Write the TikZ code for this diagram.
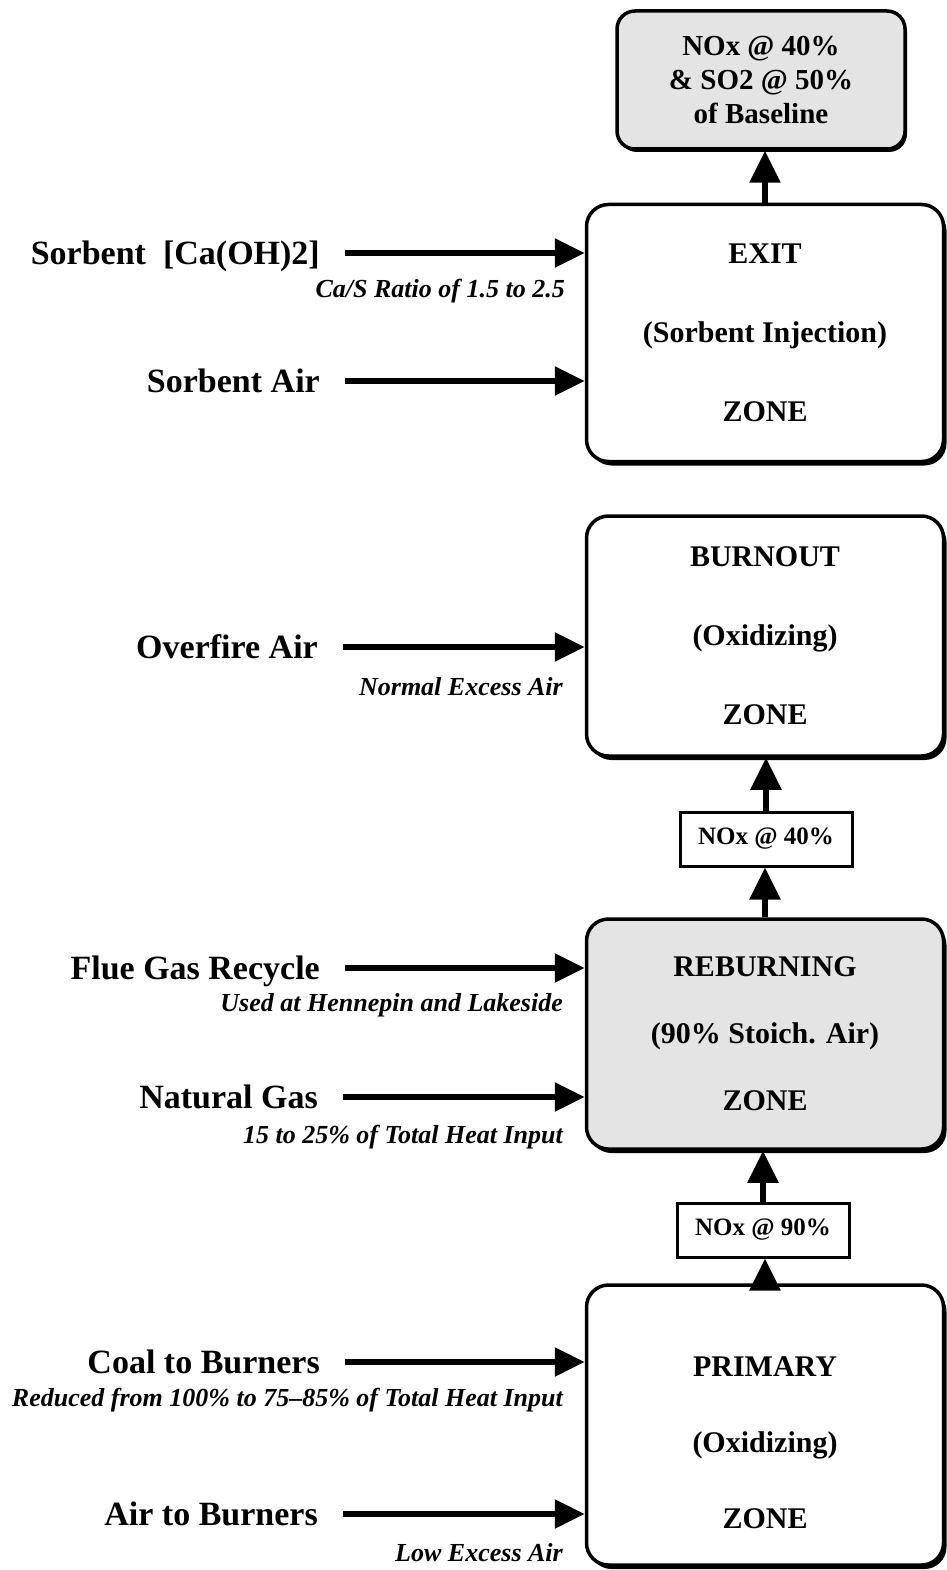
\documentclass[tikz,border=0pt]{standalone}
\usepackage{fontspec}
\setmainfont{Liberation Serif}
\usepackage{tikz}
\usetikzlibrary{arrows.meta,positioning,calc,shadows}
\definecolor{stipple}{RGB}{228,228,228}

\begin{document}
\begin{tikzpicture}[x=1pt,y=-1pt,
  zone/.style={draw,fill=white,line width=3.5pt,rounded corners=22pt,minimum width=357pt,align=center,
    font=\bfseries\fontsize{30}{79}\selectfont,
    drop shadow={shadow xshift=3pt,shadow yshift=-4pt,opacity=1,fill=black}},
  result/.style={draw,fill=stipple,line width=3.5pt,rounded corners=18pt,minimum width=288pt,minimum height=138pt,
    align=center,font=\bfseries\fontsize{29}{34}\selectfont,
    drop shadow={shadow xshift=2pt,shadow yshift=-3pt,opacity=1,fill=black}},
  tag/.style={draw,fill=white,line width=3pt,minimum width=172pt,minimum height=54pt,
    font=\bfseries\fontsize{25}{30}\selectfont,
    drop shadow={shadow xshift=2pt,shadow yshift=-2pt,opacity=1,fill=black}},
  feedlbl/.style={anchor=east,inner sep=0pt,text height=22pt,text depth=0pt,
    font=\bfseries\fontsize{34}{40}\selectfont},
  note/.style={anchor=east,inner sep=0pt,font=\bfseries\itshape\fontsize{26}{30}\selectfont},
  feed/.style={line width=5.5pt,-{Triangle[length=30pt,width=28pt]},shorten <=25pt},
  flow/.style={line width=5.5pt,-{Triangle[length=32pt,width=30pt]}}]
  \useasboundingbox (0,0) rectangle (946,1570);

  % zones, bottom of the page is the furnace inlet
  \node[result] (limit) at (761,80) {NOx @ 40\%\\\& SO2 @ 50\%\\of Baseline};
  \node[zone,minimum height=257pt] (exit) at (765,333) {EXIT\\(Sorbent Injection)\\ZONE};
  \node[zone,minimum height=240pt] (burnout) at (765,636) {BURNOUT\\(Oxidizing)\\ZONE};
  \node[tag] (nox40) at (766,839) {NOx @ 40\%};
  \node[zone,fill=stipple,minimum height=230pt,font=\bfseries\fontsize{30}{67}\selectfont] (reburn) at (765,1034)
    {REBURNING\\(90\% Stoich. Air)\\ZONE};
  \node[tag] (nox90) at (763,1230) {NOx @ 90\%};
  \node[zone,minimum height=280pt,font=\bfseries\fontsize{30}{76}\selectfont] (primary) at (765,1425)
    {\rule{0pt}{56pt}PRIMARY\\(Oxidizing)\\ZONE};

  % feeds
  \node[feedlbl] (sorb) at (320,253) {Sorbent~~[Ca(OH)2]};
  \node[feedlbl] (sorbair) at (320,381) {Sorbent Air};
  \node[feedlbl] (ofair) at (318,647) {Overfire Air};
  \node[feedlbl] (fgr) at (320,968) {Flue Gas Recycle};
  \node[feedlbl] (natgas) at (318,1097) {Natural Gas};
  \node[feedlbl] (coal) at (320,1362) {Coal to Burners};
  \node[feedlbl] (burnair) at (318,1514) {Air to Burners};

  \node[note] (sorbnote) at (565,291) {Ca/S Ratio of 1.5 to 2.5};
  \node[note] (ofanote) at (563,687) {Normal Excess Air};
  \node[note] (fgrnote) at (563,1005) {Used at Hennepin and Lakeside};
  \node[note] (gasnote) at (563,1137) {15 to 25\% of Total Heat Input};
  \node[note] (coalnote) at (563,1400) {Reduced from 100\% to 75--85\% of Total Heat Input};
  \node[note] (airnote) at (563,1553) {Low Excess Air};

  \draw[feed] (sorb.east) -- (sorb.east -| exit.west);
  \draw[feed] (sorbair.east) -- (sorbair.east -| exit.west);
  \draw[feed] (ofair.east) -- (ofair.east -| burnout.west);
  \draw[feed] (fgr.east) -- (fgr.east -| reburn.west);
  \draw[feed] (natgas.east) -- (natgas.east -| reburn.west);
  \draw[feed] (coal.east) -- (coal.east -| primary.west);
  \draw[feed] (burnair.east) -- (burnair.east -| primary.west);

  % gas path upward
  \draw[flow] (primary.north) -- (primary.north |- nox90.south);
  \draw[flow] (nox90.north) -- (nox90.north |- reburn.south);
  \draw[flow] (reburn.north) -- (reburn.north |- nox40.south);
  \draw[flow] (nox40.north) -- (nox40.north |- burnout.south);
  \draw[flow] (exit.north) -- (exit.north |- limit.south);
\end{tikzpicture}
\end{document}
